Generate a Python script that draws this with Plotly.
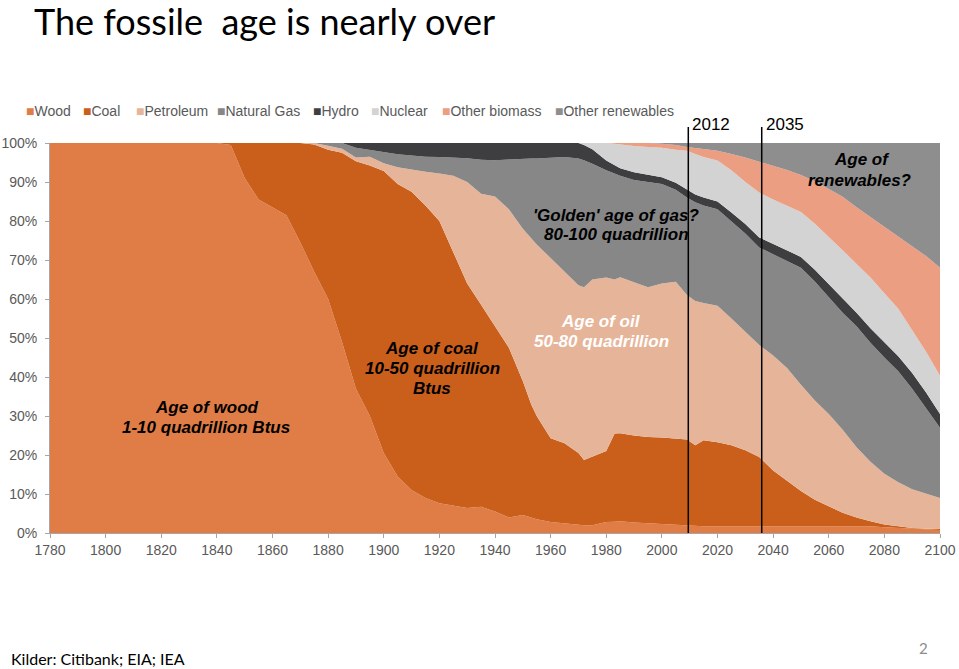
import plotly.graph_objects as go

# ---------------- data (shares of world primary energy, %) ----------------
years = [1780, 1840, 1845, 1850, 1855, 1860, 1865, 1870, 1875, 1880,
         1885, 1890, 1895, 1900, 1905, 1910, 1915, 1920, 1925, 1930,
         1935, 1940, 1945, 1950, 1953, 1955, 1960, 1965, 1970, 1972,
         1975, 1980, 1983, 1985, 1990, 1995, 2000, 2005, 2009, 2012,
         2015, 2020, 2025, 2030, 2035, 2040, 2045, 2050, 2055, 2060,
         2065, 2070, 2075, 2080, 2085, 2090, 2095, 2100]

wood = [100, 100, 99.5, 91, 85.5, 83.5, 81.5, 74.5, 67, 60,
        49, 37, 30, 20.5, 14.5, 11, 9, 7.6, 7, 6.4,
        6.7, 5.5, 4, 4.6, 4, 3.5, 2.8, 2.4, 2, 2,
        2, 2.8, 2.9, 3, 2.7, 2.5, 2.2, 2, 1.9, 1.7,
        1.7, 1.7, 1.7, 1.7, 1.7, 1.7, 1.7, 1.7, 1.7, 1.7,
        1.7, 1.7, 1.7, 1.5, 1.3, 1.1, 0.9, 0.8]

coal = [0, 0, 0.5, 9, 14.5, 16.5, 18.5, 25.5, 32.6, 38.3,
        48.5, 58.3, 64.2, 72.3, 75, 76.5, 75, 72.4, 65, 57.6,
        51.8, 47.5, 43.5, 34.4, 29, 26.5, 21.5, 20.6, 18.5, 16.7,
        17.5, 18.2, 22.6, 22.6, 22.3, 22.1, 22.3, 22.3, 22.1, 20.8,
        22.1, 21.6, 20.8, 19.5, 17.8, 14.3, 11.6, 9.1, 6.8, 5.1,
        3.5, 2.3, 1.3, 0.7, 0.4, 0.2, 0.2, 0.2]

petroleum = [0, 0, 0, 0, 0, 0, 0, 0, 0.4, 1.0,
             1.0, 1.0, 2.3, 2.0, 4.3, 5.7, 8.6, 12.2, 19.6, 26,
             28.5, 33.3, 35.5, 39, 42.6, 44, 46.2, 44, 43, 44.3,
             45.5, 44.5, 39.5, 40, 39.3, 38.4, 39.5, 40.1, 37, 37,
             35.2, 35, 32.5, 30.3, 28.7, 29.5, 29, 27.2, 25.5, 23.7,
             21.3, 18, 15.3, 13, 11.3, 9.9, 8.9, 8]

natural_gas = [0, 0, 0, 0, 0, 0, 0, 0, 0, 0.7,
               1.5, 2.5, 1.7, 2.8, 3.3, 3.6, 3.9, 4.2, 4.6, 6.1,
               8.7, 9.3, 12.8, 18, 20.4, 22, 25.7, 29.4, 32.5, 32.6,
               29.7, 27.5, 27.2, 26, 26.2, 27, 25.5, 23.6, 25, 25.3,
               25, 24.7, 25, 25.3, 25, 26, 27.5, 30, 30.5, 30,
               30, 31, 30.5, 29.8, 28.5, 25.8, 22, 18]

hydro = [0, 0, 0, 0, 0, 0, 0, 0, 0, 0,
         0, 1.2, 1.8, 2.4, 2.9, 3.2, 3.5, 3.6, 3.8, 3.9,
         4.3, 4.4, 4.2, 4, 4, 4, 3.8, 3.6, 4, 3.9,
         3.7, 2.5, 2, 1.9, 2, 1.8, 1.7, 1.8, 2, 2,
         2, 2, 2.2, 2.4, 2.6, 2.7, 2.7, 2.8, 3, 3.3,
         3.5, 3.5, 3.7, 3.8, 3.8, 4, 4, 3.5]

nuclear = [0, 0, 0, 0, 0, 0, 0, 0, 0, 0,
           0, 0, 0, 0, 0, 0, 0, 0, 0, 0,
           0, 0, 0, 0, 0, 0, 0, 0, 0, 0.5,
           1.6, 4.5, 5.6, 6.1, 6.7, 7.2, 7.6, 8.5, 10, 10.4,
           10.4, 10.5, 10.8, 10.8, 11.5, 11.3, 11.5, 11.5, 11.8, 12.2,
           12.5, 12.5, 13, 12.7, 12.2, 11, 10.5, 9.8]

other_biomass = [0, 0, 0, 0, 0, 0, 0, 0, 0, 0,
                 0, 0, 0, 0, 0, 0, 0, 0, 0, 0,
                 0, 0, 0, 0, 0, 0, 0, 0, 0, 0,
                 0, 0, 0.2, 0.4, 0.8, 1.0, 1.0, 1.2, 1.0, 1.5,
                 2.1, 2.5, 4.2, 6.3, 7.9, 8.7, 9.1, 9.5, 10.9, 12.2,
                 13.7, 14.5, 15.5, 17, 18.5, 21.6, 24.5, 27.7]

other_renewables = [0, 0, 0, 0, 0, 0, 0, 0, 0, 0,
                    0, 0, 0, 0, 0, 0, 0, 0, 0, 0,
                    0, 0, 0, 0, 0, 0, 0, 0, 0, 0,
                    0, 0, 0, 0, 0, 0, 0.2, 0.5, 1.0, 1.3,
                    1.5, 2, 2.8, 3.7, 4.8, 5.8, 6.9, 8.2, 9.8, 11.8,
                    13.8, 16.5, 19, 21.5, 24, 26.4, 29, 32]

series_names = ["Wood", "Coal", "Petroleum", "Natural Gas", "Hydro",
                "Nuclear", "Other biomass", "Other renewables"]
series_colors = ["#E07C46", "#C95F1B", "#E6B599", "#878787", "#3E3E40",
                 "#D3D3D3", "#EC9E82", "#8E8E8E"]
series_values = [wood, coal, petroleum, natural_gas, hydro,
                 nuclear, other_biomass, other_renewables]

x_ticks = list(range(1780, 2101, 20))
y_ticks = list(range(0, 101, 10))
y_ticktext = [f"{v}%" for v in y_ticks]

marker_years = [2009.5, 2035.9]
marker_labels = ["2012", "2035"]

# ---------------- geometry helpers (pixel -> paper) ----------------
W, H = 959, 669
L, R, T, B = 50, 19, 143, 136
PW, PH = W - L - R, H - T - B


def px(x):
    return (x - L) / PW


def py(y):
    return (H - B - y) / PH


fig = go.Figure()
for name, vals, col in zip(series_names, series_values, series_colors):
    fig.add_trace(go.Scatter(
        x=years, y=vals, name=name, mode="lines",
        line=dict(width=0, color=col), fillcolor=col,
        stackgroup="one", groupnorm="percent", showlegend=False,
    ))

axis_font = dict(family="Liberation Sans, Arial", size=14, color="#595959")
fig.update_xaxes(range=[1780, 2100], tickvals=x_ticks, showgrid=False,
                 zeroline=False, showline=True, linecolor="#A6A6A6",
                 linewidth=1, ticks="outside", ticklen=4, automargin=False,
                 tickcolor="#A6A6A6", tickfont=axis_font)
fig.update_yaxes(range=[0, 100], tickvals=y_ticks, ticktext=y_ticktext,
                 showgrid=False, zeroline=False, showline=True,
                 linecolor="#A6A6A6", linewidth=1, ticks="outside",
                 ticklen=4, tickcolor="#A6A6A6", tickfont=axis_font,
                 ticklabelstandoff=5, automargin=False)

shapes = []
annotations = []
for yr, lab in zip(marker_years, marker_labels):
    shapes.append(dict(type="line", xref="x", yref="paper", x0=yr, x1=yr,
                       y0=0, y1=py(127), line=dict(color="black", width=1.5)))
    annotations.append(dict(xref="x", yref="paper", x=yr, y=py(125),
                            xshift=2, text=lab, showarrow=False,
                            xanchor="left", yanchor="middle",
                            font=dict(family="Liberation Sans, Arial",
                                      size=17, color="black")))

# legend (coloured squares + labels)
legend_x = [25, 82, 135, 216, 312, 370, 441, 554]
for name, col, lx in zip(series_names, series_colors, legend_x):
    annotations.append(dict(
        xref="paper", yref="paper", x=px(lx), y=py(111),
        text=f'<span style="color:{col}">\u25a0</span>{name}',
        showarrow=False, xanchor="left", yanchor="middle", borderpad=0,
        font=dict(family="Liberation Sans, Arial", size=14, color="#595959")))

# in-chart labels
labels = [
    ("Age of wood", 207, 407, "black"),
    ("1-10 quadrillion Btus", 206, 427, "black"),
    ("Age of coal", 432, 348, "black"),
    ("10-50 quadrillion", 432, 368, "black"),
    ("Btus", 432, 388, "black"),
    ("Age of oil", 601, 321, "white"),
    ("50-80 quadrillion", 601, 341, "white"),
    ("'Golden' age of gas?", 616, 215, "black"),
    ("80-100 quadrillion", 616, 234, "black"),
    ("Age of", 862, 160, "black"),
    ("renewables?", 860, 180, "black"),
]
for txt, lx, ly, col in labels:
    annotations.append(dict(
        xref="paper", yref="paper", x=px(lx), y=py(ly),
        text=f"<b><i>{txt}</i></b>", showarrow=False,
        xanchor="center", yanchor="middle",
        font=dict(family="Liberation Sans, Arial", size=17, color=col)))

# title, source, page number
annotations.append(dict(xref="paper", yref="paper", x=px(32), y=py(21),
                        text="The fossile\u00a0 age is nearly over",
                        showarrow=False, xanchor="left", yanchor="middle",
                        font=dict(family="Lato", size=36, color="black")))
annotations.append(dict(xref="paper", yref="paper", x=px(9), y=py(658),
                        text="Kilder: Citibank; EIA; IEA",
                        showarrow=False, xanchor="left", yanchor="middle",
                        font=dict(family="Lato", size=16, color="black")))
annotations.append(dict(xref="paper", yref="paper", x=px(923), y=py(648),
                        text="2", showarrow=False, xanchor="center",
                        yanchor="middle",
                        font=dict(family="Lato", size=15, color="#8C8C8C")))

fig.update_layout(width=W, height=H, autosize=False,
                  margin=dict(l=L, r=R, t=T, b=B, pad=0, autoexpand=False),
                  paper_bgcolor="white", plot_bgcolor="white",
                  shapes=shapes, annotations=annotations,
                  showlegend=False)

fig.write_html("out.html",
               config={"displayModeBar": False, "responsive": False},
               post_script="document.body.style.margin='0';"
                           "document.body.style.overflow='hidden';")
